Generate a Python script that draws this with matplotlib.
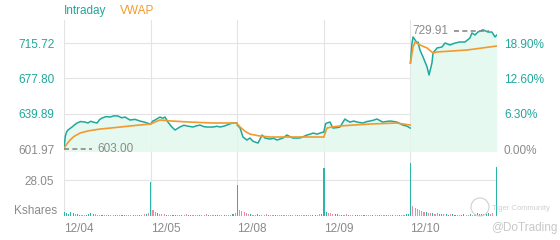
import matplotlib.pyplot as plt
from matplotlib.patches import Ellipse
import numpy as np

plt.rcParams['font.family'] = ['Liberation Sans', 'DejaVu Sans']

TEAL = "#1fa89b"
ORANGE = "#f29a2e"
GREY = "#8a8a8a"
PINK = "#f08aa0"
GRID = "#e4e4e4"

days = ["12/04", "12/05", "12/08", "12/09", "12/10"]
day_len = 390  # minutes per session

base_price = 601.97
price_ticks = [601.97, 639.89, 677.80, 715.72]
vol_tick = 28.05
low_price, high_price = 603.00, 729.91

# intraday price, minutes from the open of each session
price_min = [
    [0, 6, 12, 18, 27, 36, 48, 59, 75, 95, 108, 120, 131, 149, 160, 171, 190, 207, 225, 243, 260, 275, 297, 320, 342, 360, 374, 389],
    [0, 10, 20, 42, 55, 65, 78, 96, 110, 132, 150, 164, 191, 205, 222, 240, 254, 281, 300, 312, 330, 344, 367, 389],
    [0, 13, 26, 44, 58, 70, 80, 94, 112, 125, 148, 165, 179, 206, 224, 240, 251, 283, 300, 314, 330, 341, 360, 373, 389],
    [0, 8, 14, 28, 41, 60, 73, 95, 105, 118, 135, 150, 176, 195, 208, 225, 239, 266, 280, 298, 315, 329, 356, 375, 389],
    [0, 7, 12, 21, 30, 34, 43, 57, 75, 84, 97, 102, 120, 142, 156, 178, 201, 223, 246, 268, 277, 291, 304, 327, 349, 367, 381, 389],
]
price_val = [
    [603.0, 616.0, 620.5, 622.4, 624.0, 625.6, 628.0, 629.9, 631.5, 630.9, 629.9, 631.8, 630.9, 629.9, 633.5, 635.2, 636.8, 636.3, 637.6, 637.4, 635.5, 636.3, 633.1, 633.8, 632.0, 631.0, 629.9, 628.8],
    [628.8, 632.0, 633.1, 636.3, 635.0, 636.3, 630.9, 625.6, 622.4, 625.6, 627.5, 626.7, 625.6, 626.8, 627.7, 626.0, 625.6, 625.6, 626.4, 625.6, 626.5, 627.7, 629.9, 629.9],
    [627.7, 624.5, 614.9, 611.6, 613.8, 610.5, 609.5, 608.4, 617.0, 613.8, 612.7, 613.5, 611.6, 613.8, 617.0, 615.0, 613.8, 613.8, 615.5, 617.0, 618.0, 619.1, 618.0, 619.1, 620.2],
    [620.2, 629.0, 629.9, 630.9, 624.5, 625.0, 625.6, 634.2, 632.5, 630.9, 632.0, 630.9, 629.9, 631.5, 632.0, 633.0, 634.2, 630.9, 631.5, 632.0, 631.5, 630.9, 627.7, 626.5, 624.5],
    [694.3, 715.0, 722.2, 719.0, 715.7, 716.8, 708.2, 700.7, 690.0, 681.4, 694.3, 705.0, 710.4, 711.4, 715.7, 713.6, 715.7, 716.8, 716.8, 721.1, 726.5, 724.3, 727.5, 729.91, 727.5, 727.5, 722.2, 724.3],
]

# VWAP line
vwap_min = [
    [0, 8, 27, 45, 72, 110, 162, 230, 297, 389],
    [0, 20, 42, 96, 180, 280, 389],
    [0, 13, 35, 58, 100, 148, 283, 389],
    [0, 14, 40, 73, 140, 208, 329, 389],
    [0, 12, 21, 43, 75, 102, 120, 255, 389],
]
vwap_val = [
    [601.97, 606.0, 611.6, 615.5, 619.1, 621.5, 623.4, 625.0, 626.7, 628.8],
    [628.8, 631.0, 633.1, 632.0, 630.9, 629.9, 629.9],
    [629.0, 625.6, 621.0, 618.0, 616.0, 614.9, 614.9, 614.9],
    [615.0, 624.5, 625.8, 626.7, 627.8, 628.8, 629.9, 627.7],
    [694.3, 711.4, 716.8, 713.6, 710.4, 705.0, 706.1, 708.2, 712.5],
]

# volume in Kshares, one bar every 10 minutes; u = up (teal), d = down (pink)
vol_min = list(range(0, 390, 10))
vol_val = [
    [3.0, 2.4, 1.8, 2.8, 2.0, 1.2, 1.5, 0.9, 1.0, 0.6, 0.8, 1.6, 2.0, 1.2, 1.4, 0.7, 0.6, 0.5, 0.8, 0.4,
     0.9, 0.5, 0.6, 0.8, 0.4, 0.7, 1.1, 0.5, 0.6, 0.9, 0.4, 0.7, 0.5, 0.8, 0.6, 0.9, 1.3, 1.8, 2.4],
    [26.5, 4.5, 3.2, 2.5, 1.8, 1.5, 1.2, 1.0, 0.8, 1.1, 0.6, 0.9, 1.0, 0.7, 0.5, 0.8, 1.4, 0.6, 0.5, 0.8,
     0.6, 0.5, 0.7, 0.9, 0.4, 1.2, 0.6, 0.7, 0.5, 1.0, 0.6, 0.4, 0.7, 0.5, 0.8, 0.6, 1.0, 1.4, 2.0],
    [24.2, 5.0, 3.6, 3.0, 2.2, 1.8, 1.5, 1.0, 0.8, 1.8, 0.7, 0.9, 0.5, 1.3, 0.6, 0.7, 0.5, 0.8, 0.6, 0.5,
     1.0, 0.6, 0.5, 0.7, 0.9, 0.4, 0.6, 0.5, 0.8, 0.6, 0.4, 0.7, 0.5, 0.6, 0.9, 0.7, 0.8, 1.2, 1.6],
    [37.4, 3.5, 2.6, 2.0, 1.5, 1.2, 1.4, 0.8, 1.0, 0.6, 1.4, 0.7, 0.5, 0.6, 0.8, 0.5, 0.7, 0.4, 0.6, 0.9,
     0.5, 0.7, 0.4, 0.6, 0.8, 0.5, 0.6, 0.4, 0.7, 0.5, 0.6, 0.8, 0.5, 0.7, 0.6, 0.9, 0.8, 1.2, 1.8],
    [41.3, 8.0, 6.0, 5.5, 4.5, 4.0, 3.0, 3.5, 2.6, 2.0, 2.4, 1.8, 2.5, 1.6, 1.5, 1.2, 1.4, 1.0, 1.6, 1.2,
     0.9, 1.1, 1.0, 0.8, 1.2, 0.9, 1.0, 1.3, 0.8, 1.1, 2.0, 1.4, 1.5, 1.8, 2.2, 2.5, 1.8, 2.6, 38.2],
]
vol_dir = [
    "uuuuuduudduuuudddudduddudduudddudduddud",
    "uddudddudduuddudduudddudddudduuddudddud",
    "udddddudduuddduddudduddduddudddudduuddu",
    "uuddduududdudduuddudddudduddudduddudduu",
    "udddddduddudduuduuduudduuddudduuuduuddu",
]

fig = plt.figure(figsize=(5.6, 2.4), dpi=100)
W, H = 560, 240
left, right = 64, 497
ax_p = fig.add_axes([left / W, (H - 152) / H, (right - left) / W, 132 / H])
ax_v = fig.add_axes([left / W, (H - 216) / H, (right - left) / W, 64 / H])

p_lo, p_hi = 598.8, 740.4
for ax in (ax_p, ax_v):
    ax.set_xlim(0, day_len * len(days))
    for s in ax.spines.values():
        s.set_visible(False)
    for i in range(len(days) + 1):
        ax.axvline(i * day_len, color=GRID, lw=0.8, zorder=0)

ax_p.set_ylim(p_lo, p_hi)
for i in range(len(days)):
    x = i * day_len + np.array(price_min[i])
    y = np.array(price_val[i])
    ax_p.fill_between(x, y, p_lo, color="#e5f9f0", lw=0, zorder=1)
    ax_p.plot(x, y, color=TEAL, lw=1.1, zorder=3)
    xv = i * day_len + np.array(vwap_min[i])
    ax_p.plot(xv, vwap_val[i], color=ORANGE, lw=1.2, zorder=4)

for t in price_ticks:
    ax_p.axhline(t, color=GRID, lw=0.8, zorder=0)

ax_p.set_xticks([])
ax_p.set_yticks(price_ticks)
ax_p.set_yticklabels([f"{t:.2f}" for t in price_ticks])
ax_p.tick_params(axis="y", length=0, pad=7, labelsize=8.5)
for lab, t in zip(ax_p.get_yticklabels(), price_ticks):
    lab.set_color(GREY if t == base_price else TEAL)

ax_r = ax_p.twinx()
ax_r.set_ylim(p_lo, p_hi)
for s in ax_r.spines.values():
    s.set_visible(False)
ax_r.set_yticks(price_ticks)
ax_r.set_yticklabels([f"{(t / base_price - 1) * 100:.2f}%" for t in price_ticks])
ax_r.tick_params(axis="y", length=0, pad=5, labelsize=8.5)
for lab, t in zip(ax_r.get_yticklabels(), price_ticks):
    lab.set_color(GREY if t == base_price else TEAL)

# low / high markers
ax_p.plot([0, 125], [low_price - 0.5, low_price - 0.5], ls=(0, (3, 2)), color=GREY, lw=1.2, zorder=5)
ax_p.text(150, low_price - 0.5, f"{low_price:.2f}", color=GREY, fontsize=8.5, va="center", ha="left")
ax_p.plot([1755, 1915], [high_price - 1, high_price - 1], ls=(0, (3, 2)), color=GREY, lw=1.2, zorder=5)
ax_p.text(1567, high_price - 1, f"{high_price:.2f}", color=GREY, fontsize=8.5, va="center", ha="left")

# volume
v_hi = 49.9
ax_v.set_ylim(0, v_hi)
ax_v.axhline(vol_tick, color=GRID, lw=0.8, zorder=0)
ax_v.axhline(0, color="#d8d8d8", lw=0.8, zorder=0)
for i in range(len(days)):
    for m, v, d in zip(vol_min, vol_val[i], vol_dir[i]):
        xm = i * day_len + m + 1
        if i == len(days) - 1 and m == vol_min[-1]:
            xm = (i + 1) * day_len - 3
        ax_v.bar(xm, v, width=5, color="#2bb5a8" if d == "u" else PINK, lw=0, zorder=2)

ax_v.set_yticks([vol_tick])
ax_v.set_yticklabels([f"{vol_tick:.2f}"])
ax_v.tick_params(axis="y", length=0, pad=7, labelsize=8.5, labelcolor=GREY)
ax_v.text(-7 / (right - left), 3.9, "Kshares", transform=ax_v.get_yaxis_transform(),
          ha="right", va="center", color=GREY, fontsize=8.5)

ax_v.set_xticks([i * day_len for i in range(len(days))])
ax_v.set_xticklabels(days)
ax_v.tick_params(axis="x", length=0, pad=5, labelsize=8.5, labelcolor=GREY)
for lab in ax_v.get_xticklabels():
    lab.set_horizontalalignment("left")

# legend and watermark
fig.text(64 / W, 1 - 11 / H, "Intraday", color=TEAL, fontsize=8.5, va="center")
fig.text(120 / W, 1 - 11 / H, "VWAP", color=ORANGE, fontsize=8.5, va="center")
fig.text(492 / W, 1 - 208 / H, "Tiger Community", color="#d0d0d0", fontsize=5.5, va="center")
fig.text(491 / W, 1 - 228 / H, "@DoTrading", color="#c8c8c8", fontsize=8.5, va="center")
fig.patches.append(Ellipse((480 / W, 1 - 207 / H), 18 / W, 18 / H, transform=fig.transFigure,
                           fill=False, ec="#d0d0d0", lw=0.8))

fig.savefig("out.png", dpi=100)
